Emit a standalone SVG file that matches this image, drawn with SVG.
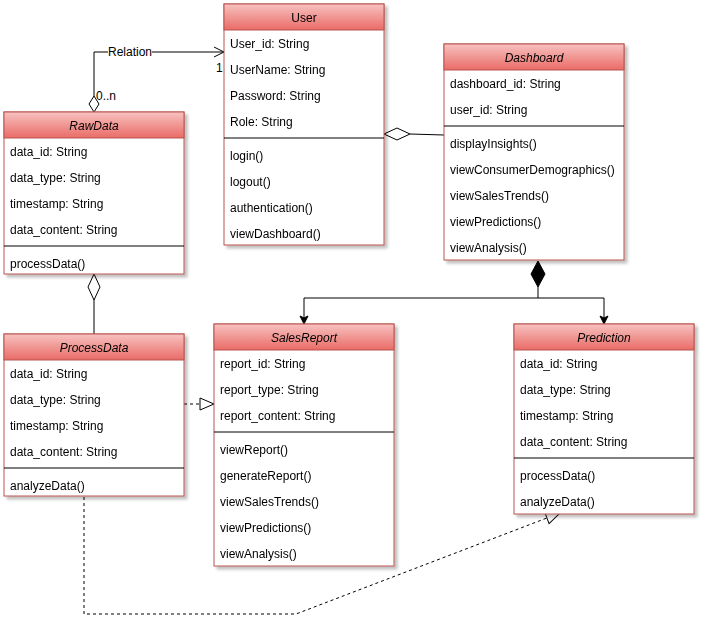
<svg xmlns="http://www.w3.org/2000/svg" width="712" height="640" viewBox="0 0 712 640">
<defs>
<linearGradient id="hg" x1="0" y1="0" x2="0" y2="1">
<stop offset="0" stop-color="#f7c2c0"/>
<stop offset="1" stop-color="#ea6b66"/>
</linearGradient>
<filter id="sh" x="-10%" y="-10%" width="130%" height="130%">
<feGaussianBlur in="SourceAlpha" stdDeviation="1.5"/>
<feOffset dx="3" dy="3"/>
<feComponentTransfer><feFuncA type="linear" slope="0.25"/></feComponentTransfer>
<feMerge><feMergeNode/><feMergeNode in="SourceGraphic"/></feMerge>
</filter>
<marker id="open" markerWidth="12" markerHeight="12" refX="11" refY="6" orient="auto" markerUnits="userSpaceOnUse">
<path d="M1,1 L11,6 L1,11" fill="none" stroke="#000" stroke-width="1"/>
</marker>
<marker id="blk" markerWidth="10" markerHeight="10" refX="9" refY="5" orient="auto" markerUnits="userSpaceOnUse">
<path d="M1,1 L9,5 L1,9 L3,5 Z" fill="#000" stroke="#000"/>
</marker>
<marker id="tri" markerWidth="16" markerHeight="14" refX="15" refY="7" orient="auto" markerUnits="userSpaceOnUse">
<path d="M1,1 L15,7 L1,13 Z" fill="#fff" stroke="#000"/>
</marker>
</defs>
<style>
text{font-family:"Liberation Sans",Arial,sans-serif;font-size:12px;fill:#000}
.box{fill:#fff;stroke:#b85450;stroke-width:1}
.hd{fill:url(#hg);stroke:#b85450;stroke-width:1}
.t{text-anchor:middle}
.i{font-style:italic}
.div{stroke:#000;stroke-width:1}
.ln{fill:none;stroke:#000;stroke-width:1}
.dash{fill:none;stroke:#000;stroke-width:1;stroke-dasharray:3,3}
</style>
<rect width="712" height="640" fill="#fff"/>

<g id="connectors">
<path class="ln" d="M94,96 V52 H224" marker-end="url(#open)"/>
<rect x="108" y="45" width="44" height="14" fill="#fff"/>
<text x="130" y="56" class="t" font-size="11">Relation</text>
<text x="96" y="100" font-size="11">0..n</text>
<text x="216" y="72" font-size="11">1</text>
<path d="M94,112 L89,104 L94,96 L99,104 Z" fill="#fff" stroke="#000"/>

<path class="ln" d="M410,134 L444,135"/>
<path d="M384,134 L397,128 L410,134 L397,140 Z" fill="#fff" stroke="#000"/>

<path class="ln" d="M94,300 V334"/>
<path d="M94,274 L88,287 L94,300 L100,287 Z" fill="#fff" stroke="#000"/>

<path class="ln" d="M538,287 V298"/>
<path class="ln" d="M304,298 H604"/>
<path class="ln" d="M304,298 V324" marker-end="url(#blk)"/>
<path class="ln" d="M604,298 V324" marker-end="url(#blk)"/>
<path d="M538,261 L531,274 L538,287 L545,274 Z" fill="#000" stroke="#000"/>

<path class="dash" d="M184,404 H214" marker-end="url(#tri)"/>
<path class="dash" d="M84,497 V614 H296 L560,513" marker-end="url(#tri)"/>
</g>

<g id="User" filter="url(#sh)">
<rect class="box" x="224" y="4" width="160" height="241"/>
<rect class="hd" x="224" y="4" width="160" height="26"/>
<text x="304" y="22" class="t">User</text>
<text x="230" y="48">User_id: String</text>
<text x="230" y="74">UserName: String</text>
<text x="230" y="100">Password: String</text>
<text x="230" y="126">Role: String</text>
<line class="div" x1="224" y1="138" x2="384" y2="138"/>
<text x="230" y="160">login()</text>
<text x="230" y="186">logout()</text>
<text x="230" y="212">authentication()</text>
<text x="230" y="238">viewDashboard()</text>
</g>

<g id="Dashboard" filter="url(#sh)">
<rect class="box" x="444" y="44" width="180" height="216"/>
<rect class="hd" x="444" y="44" width="180" height="26"/>
<text x="534" y="62" class="t i">Dashboard</text>
<text x="450" y="88">dashboard_id: String</text>
<text x="450" y="114">user_id: String</text>
<line class="div" x1="444" y1="126" x2="624" y2="126"/>
<text x="450" y="148">displayInsights()</text>
<text x="450" y="174">viewConsumerDemographics()</text>
<text x="450" y="200">viewSalesTrends()</text>
<text x="450" y="226">viewPredictions()</text>
<text x="450" y="252">viewAnalysis()</text>
</g>

<g id="RawData" filter="url(#sh)">
<rect class="box" x="4" y="112" width="180" height="162"/>
<rect class="hd" x="4" y="112" width="180" height="26"/>
<text x="94" y="130" class="t i">RawData</text>
<text x="10" y="156">data_id: String</text>
<text x="10" y="182">data_type: String</text>
<text x="10" y="208">timestamp: String</text>
<text x="10" y="234">data_content: String</text>
<line class="div" x1="4" y1="246" x2="184" y2="246"/>
<text x="10" y="268">processData()</text>
</g>

<g id="ProcessData" filter="url(#sh)">
<rect class="box" x="4" y="334" width="180" height="162"/>
<rect class="hd" x="4" y="334" width="180" height="26"/>
<text x="94" y="352" class="t i">ProcessData</text>
<text x="10" y="378">data_id: String</text>
<text x="10" y="404">data_type: String</text>
<text x="10" y="430">timestamp: String</text>
<text x="10" y="456">data_content: String</text>
<line class="div" x1="4" y1="468" x2="184" y2="468"/>
<text x="10" y="490">analyzeData()</text>
</g>

<g id="SalesReport" filter="url(#sh)">
<rect class="box" x="214" y="324" width="180" height="242"/>
<rect class="hd" x="214" y="324" width="180" height="26"/>
<text x="304" y="342" class="t i">SalesReport</text>
<text x="220" y="368">report_id: String</text>
<text x="220" y="394">report_type: String</text>
<text x="220" y="420">report_content: String</text>
<line class="div" x1="214" y1="432" x2="394" y2="432"/>
<text x="220" y="454">viewReport()</text>
<text x="220" y="480">generateReport()</text>
<text x="220" y="506">viewSalesTrends()</text>
<text x="220" y="532">viewPredictions()</text>
<text x="220" y="558">viewAnalysis()</text>
</g>

<g id="Prediction" filter="url(#sh)">
<rect class="box" x="514" y="324" width="180" height="190"/>
<rect class="hd" x="514" y="324" width="180" height="26"/>
<text x="604" y="342" class="t i">Prediction</text>
<text x="520" y="368">data_id: String</text>
<text x="520" y="394">data_type: String</text>
<text x="520" y="420">timestamp: String</text>
<text x="520" y="446">data_content: String</text>
<line class="div" x1="514" y1="458" x2="694" y2="458"/>
<text x="520" y="480">processData()</text>
<text x="520" y="506">analyzeData()</text>
</g>
</svg>
